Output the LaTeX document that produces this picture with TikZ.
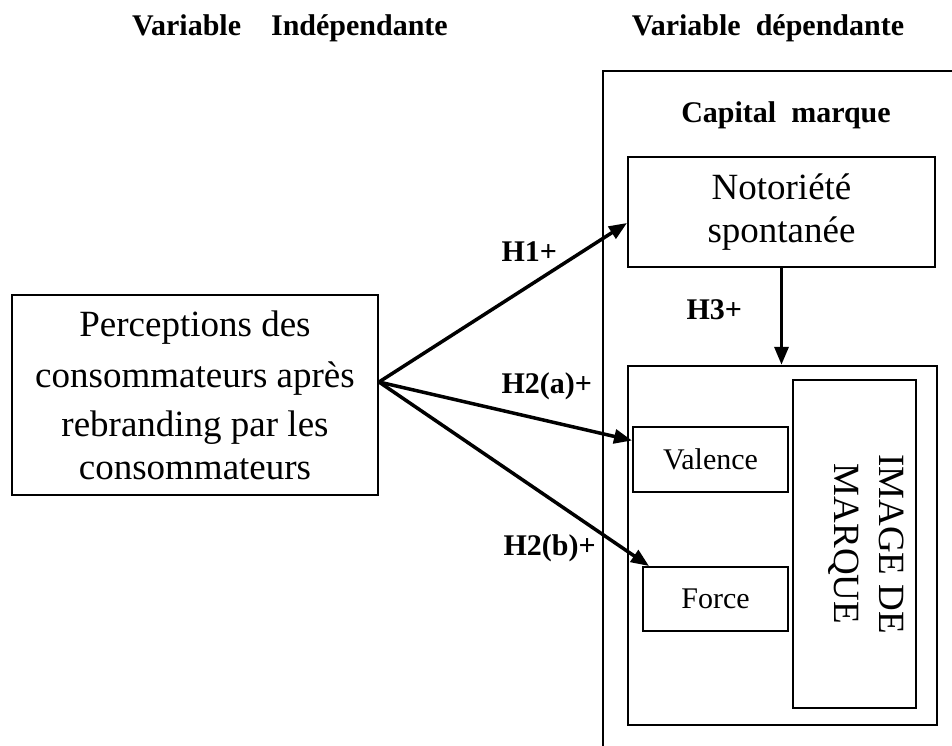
\documentclass[tikz,border=0pt]{standalone}
\usepackage{fontspec}
\setmainfont{Liberation Serif}
\usetikzlibrary{arrows.meta}
\tikzset{
  box/.style={draw, line width=2pt, inner sep=0pt, align=center},
  bigtxt/.style={font=\fontsize{37}{43}\selectfont},
  midtxt/.style={font=\fontsize{30}{36}\selectfont},
  headtxt/.style={font=\fontsize{30}{36}\selectfont\bfseries},
  conn/.style={line width=3.5pt, -{Triangle[length=18pt,width=14pt]}},
}
\begin{document}
\begin{tikzpicture}[x=1pt,y=-1pt]
\useasboundingbox (0,0) rectangle (952,745);

% column headings
\node[headtxt, anchor=base] (hind) at (290,35) {Variable\quad Indépendante};
\node[headtxt, anchor=base] (hdep) at (768,35) {Variable\enspace dépendante};

% open frame of the dependent variable
\draw[line width=2.5pt] (603,760) -- (603,71) -- (970,71);
\node[headtxt, anchor=base] (capm) at (786,122) {Capital\enspace marque};

% independent variable
\node[box, bigtxt, minimum width=366, minimum height=200] (perc) at (195,395)
  {Perceptions des\\[8pt] consommateurs après\\[6pt] rebranding par les\\ consommateurs};

% awareness
\node[box, bigtxt, minimum width=307, minimum height=110] (noto) at (781.5,212)
  {Notoriété\\ spontanée};

% brand image container
\node[box, line width=2.5pt, minimum width=309, minimum height=359] (cont) at (782.5,545.5) {};
\node[box, minimum width=123, minimum height=328] (img) at (854.5,544) {};
\node[bigtxt, align=center, rotate=-90] (imgtxt) at (866,544)
  {IMAGE DE\\[2pt] MARQUE};
\node[box, midtxt, minimum width=155, minimum height=65] (val) at (710.5,459.5) {Valence};
\node[box, midtxt, minimum width=145, minimum height=64] (force) at (715.5,599) {Force};

% hypotheses
\coordinate (src) at ([yshift=13pt]perc.east);
\draw[conn] (src) -- ([yshift=-11pt]noto.west);
\draw[conn] (src) -- ([yshift=19pt]val.west);
\draw[conn] (src) -- ([xshift=7pt]force.north west);
\draw[conn] (noto.south) -- (noto.south |- cont.north);

\node[headtxt, anchor=base west] (h1) at (498,261) {H1+};
\node[headtxt, anchor=base west] (h2a) at (498,393) {H2(a)+};
\node[headtxt, anchor=base west] (h2b) at (500,555) {H2(b)+};
\node[headtxt, anchor=base west] (h3) at (683,319) {H3+};
\end{tikzpicture}
\end{document}
